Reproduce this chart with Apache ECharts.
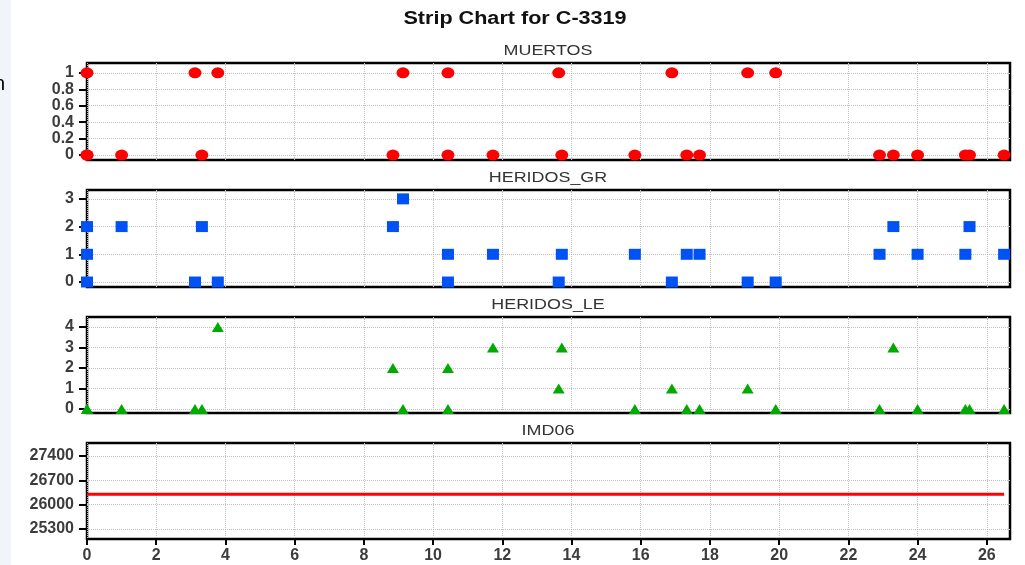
<!DOCTYPE html>
<html>
<head>
<meta charset="utf-8">
<script src="https://cdn.jsdelivr.net/npm/echarts@6/dist/echarts.min.js"></script>
<style>html,body{margin:0;padding:0;background:#fff}#c{width:1025px;height:565px}</style>
</head>
<body>
<div id="c"></div>
<script>
// observation positions (x) and values per variable
var xs       = [0, 0, 0, 1.0, 3.12, 3.32, 3.78, 8.84, 9.13, 10.43, 10.43, 11.73, 13.63, 13.72, 15.83, 16.9, 17.33, 17.7, 19.09, 19.9, 22.9, 23.3, 24.0, 25.38, 25.5, 26.5];
var muertos  = [1, 0, 0, 0,   1,    0,    1,    0,    1,    1,     0,     0,     1,     0,     0,     1,    0,     0,    1,     1,    0,    0,    0,    0,     0,    0];
var heridosGR= [0, 2, 1, 2,   0,    2,    0,    2,    3,    0,     1,     1,     0,     1,     1,     0,    1,     1,    0,     0,    1,    2,    1,    1,     2,    1];
var heridosLE= [0, 0, 0, 0,   0,    0,    4,    2,    0,    0,     2,     3,     1,     3,     0,     1,    0,     0,    1,     0,    0,    3,    0,    0,     0,    0];
var imd06    = [26300,26300,26300,26300,26300,26300,26300,26300,26300,26300,26300,26300,26300,26300,26300,26300,26300,26300,26300,26300,26300,26300,26300,26300,26300,26300];

var mainTitle = 'Strip Chart for C-3319';
var panelTitles = ['MUERTOS', 'HERIDOS_GR', 'HERIDOS_LE', 'IMD06'];
var xTicks = [0,2,4,6,8,10,12,14,16,18,20,22,24,26];
var yTicks = [
  [0, 0.2, 0.4, 0.6, 0.8, 1],
  [0, 1, 2, 3],
  [0, 1, 2, 3, 4],
  [25300, 26000, 26700, 27400]
];
var yRanges = [[-0.06, 1.12], [-0.18, 3.32], [-0.2, 4.49], [25012, 27774]];

function pairs(v) { return xs.map(function (x, i) { return [x, v[i]]; }); }

var FONT = 'Liberation Sans, Arial, sans-serif';

var grids = [
  {left: 87, right: 15, top: 63, height: 97},
  {left: 87, right: 15, top: 190, height: 97},
  {left: 87, right: 15, top: 317, height: 96},
  {left: 87, right: 15, top: 443, height: 96}
].map(function (g) {
  return Object.assign({show: true, borderColor: '#000', borderWidth: 2.5, backgroundColor: '#fff'}, g);
});

var gridLine = {show: true, lineStyle: {type: 'dotted', color: '#c0c0c0', width: 1}};

var xAxes = grids.map(function (g, i) {
  var last = i === 3;
  return {
    type: 'value', gridIndex: i, min: 0, max: 26.67,
    axisLine: {show: false},
    axisTick: {show: last, customValues: xTicks, length: 6, inside: false, lineStyle: {color: '#000', width: 2}},
    axisLabel: {show: last, customValues: xTicks, margin: 9, fontSize: 16, fontWeight: 'bold', color: '#3c3c3c', fontFamily: FONT},
    splitLine: gridLine
  };
});

var yAxes = grids.map(function (g, i) {
  return {
    type: 'value', gridIndex: i, min: yRanges[i][0], max: yRanges[i][1],
    axisLine: {show: false},
    axisTick: {show: true, customValues: yTicks[i], length: 8, lineStyle: {color: '#000', width: 2}},
    axisLabel: {customValues: yTicks[i], margin: 13, fontSize: 16, fontWeight: 'bold', color: '#3c3c3c', fontFamily: FONT,
      formatter: function (v) { return String(v); }},
    splitLine: gridLine
  };
});

var titleCenters = [51, 178, 305.5, 431.5];
var graphics = [
  {type: 'rect', shape: {x: 0, y: 0, width: 11, height: 565}, style: {fill: '#f1f5f9'}, z: -10},
  {type: 'text', x: -6, y: 74, style: {text: 'n', fontSize: 20, fill: '#000', fontFamily: FONT}},
  {type: 'text', x: 515, y: 19.5, scaleX: 1.2, scaleY: 1,
    style: {text: mainTitle, fontSize: 18, fontWeight: 'bold', fill: '#111', fontFamily: FONT, align: 'center', verticalAlign: 'middle'}}
];
panelTitles.forEach(function (t, i) {
  graphics.push({type: 'text', x: 548, y: titleCenters[i], scaleX: 1.28, scaleY: 1,
    style: {text: t, fontSize: 14, fill: '#333', fontFamily: FONT, align: 'center', verticalAlign: 'middle'}});
});

var option = {
  backgroundColor: '#fff',
  animation: false,
  graphic: graphics,
  grid: grids,
  xAxis: xAxes,
  yAxis: yAxes,
  series: [
    {type: 'scatter', xAxisIndex: 0, yAxisIndex: 0, data: pairs(muertos), symbol: 'circle', symbolSize: [13, 11], itemStyle: {color: '#ff0000', opacity: 1}},
    {type: 'scatter', xAxisIndex: 1, yAxisIndex: 1, data: pairs(heridosGR), symbol: 'rect', symbolSize: [12, 11], itemStyle: {color: '#0052f5', opacity: 1}},
    {type: 'scatter', xAxisIndex: 2, yAxisIndex: 2, data: pairs(heridosLE), symbol: 'triangle', symbolSize: [12, 10], itemStyle: {color: '#00aa00', opacity: 1}},
    {type: 'line', xAxisIndex: 3, yAxisIndex: 3, data: pairs(imd06), showSymbol: false, symbol: 'none', lineStyle: {color: '#ff0000', width: 3}}
  ]
};

echarts.init(document.getElementById('c')).setOption(option);
</script>
</body>
</html>
